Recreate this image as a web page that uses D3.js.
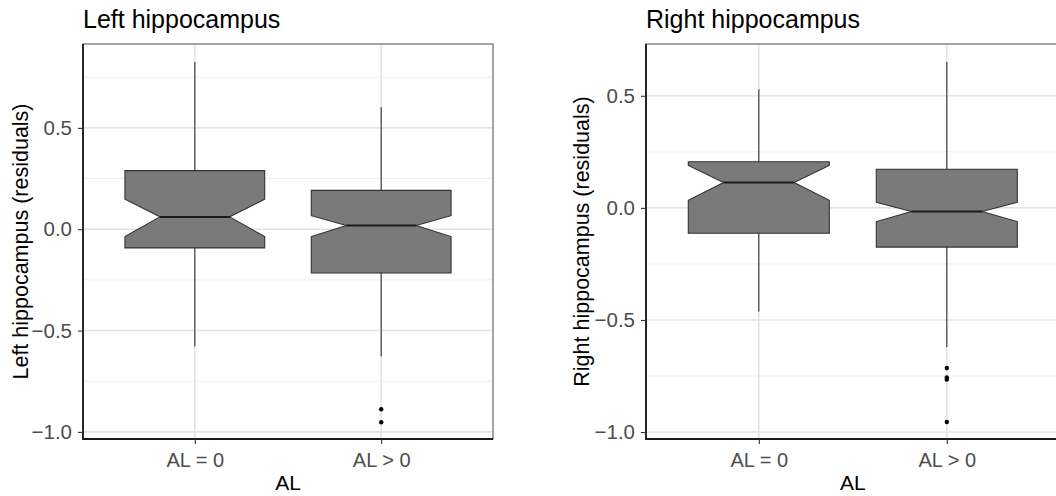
<!DOCTYPE html>
<html>
<head>
<meta charset="utf-8">
<script src="https://cdn.jsdelivr.net/npm/d3@7"></script>
<style>
  html, body { margin: 0; padding: 0; background: #fff; }
  svg text { font-family: "Liberation Sans", Arial, Helvetica, sans-serif; }
</style>
</head>
<body>
<div id="chart"></div>
<script>
/* ------------------------------------------------------------
   Notched boxplots: hippocampus residuals by AL group
------------------------------------------------------------- */

// ---- data ----
const groups = ["AL = 0", "AL > 0"];

const leftLower   = [-0.579, -0.627];
const leftQ1      = [-0.092, -0.216];
const leftNotchLo = [-0.036, -0.036];
const leftMedian  = [ 0.061,  0.018];
const leftNotchHi = [ 0.148,  0.067];
const leftQ3      = [ 0.289,  0.192];
const leftUpper   = [ 0.825,  0.602];
const leftOutliers = [[], [-0.888, -0.952]];

const rightLower   = [-0.462, -0.621];
const rightQ1      = [-0.113, -0.175];
const rightNotchLo = [ 0.034, -0.061];
const rightMedian  = [ 0.113, -0.016];
const rightNotchHi = [ 0.189,  0.025];
const rightQ3      = [ 0.206,  0.172];
const rightUpper   = [ 0.529,  0.651];
const rightOutliers = [[], [-0.714, -0.756, -0.766, -0.955]];

const majorTicks = [-1.0, -0.5, 0.0, 0.5];
const minorTicks = [-0.75, -0.25, 0.25, 0.75];

// ---- svg ----
const W = 1056, H = 496;
const svg = d3.select("#chart").append("svg")
    .attr("width", W)
    .attr("height", H);

function makeBoxes(lower, q1, nlo, med, nhi, q3, upper, outs) {
    return groups.map((g, i) => ({
        group: g, lower: lower[i], q1: q1[i], notchLo: nlo[i], median: med[i],
        notchHi: nhi[i], q3: q3[i], upper: upper[i], outliers: outs[i]
    }));
}

function drawPanel(cfg) {
    const { x0, x1, y0, y1, yDomain, title, yLabel, boxes } = cfg;

    const x = d3.scalePoint().domain(groups).range([x0, x1]).padding(0.6);
    const y = d3.scaleLinear().domain(yDomain).range([y1, y0]);
    const boxW = x.step() * 0.75;

    const g = svg.append("g");
    const clipId = "clip-" + title.split(" ")[0];
    svg.append("clipPath").attr("id", clipId)
        .append("rect").attr("x", x0).attr("y", y0)
        .attr("width", x1 - x0).attr("height", y1 - y0);

    const plot = g.append("g").attr("clip-path", `url(#${clipId})`);

    // grid
    plot.selectAll(".minor").data(minorTicks).enter().append("line")
        .attr("x1", x0).attr("x2", x1)
        .attr("y1", d => y(d)).attr("y2", d => y(d))
        .attr("stroke", "#efefef").attr("stroke-width", 1);
    plot.selectAll(".major").data(majorTicks).enter().append("line")
        .attr("x1", x0).attr("x2", x1)
        .attr("y1", d => y(d)).attr("y2", d => y(d))
        .attr("stroke", "#e3e3e3").attr("stroke-width", 1.6);
    plot.selectAll(".vmajor").data(groups).enter().append("line")
        .attr("x1", d => x(d)).attr("x2", d => x(d))
        .attr("y1", y0).attr("y2", y1)
        .attr("stroke", "#e3e3e3").attr("stroke-width", 1.6);

    // whiskers
    plot.selectAll(".whiskHi").data(boxes).enter().append("line")
        .attr("x1", d => x(d.group)).attr("x2", d => x(d.group))
        .attr("y1", d => y(d.q3)).attr("y2", d => y(d.upper))
        .attr("stroke", "#333").attr("stroke-width", 1.1);
    plot.selectAll(".whiskLo").data(boxes).enter().append("line")
        .attr("x1", d => x(d.group)).attr("x2", d => x(d.group))
        .attr("y1", d => y(d.q1)).attr("y2", d => y(d.lower))
        .attr("stroke", "#333").attr("stroke-width", 1.1);

    // notched boxes
    const notchPath = d => {
        const cx = x(d.group), hw = boxW / 2, nw = boxW / 4;
        return d3.line()([
            [cx - hw, y(d.q3)], [cx + hw, y(d.q3)], [cx + hw, y(d.notchHi)],
            [cx + nw, y(d.median)], [cx + hw, y(d.notchLo)], [cx + hw, y(d.q1)],
            [cx - hw, y(d.q1)], [cx - hw, y(d.notchLo)], [cx - nw, y(d.median)],
            [cx - hw, y(d.notchHi)]
        ]) + "Z";
    };
    plot.selectAll(".box").data(boxes).enter().append("path")
        .attr("d", notchPath)
        .attr("fill", "#7a7a7a")
        .attr("stroke", "#333")
        .attr("stroke-width", 1.1);
    plot.selectAll(".median").data(boxes).enter().append("line")
        .attr("x1", d => x(d.group) - boxW / 4).attr("x2", d => x(d.group) + boxW / 4)
        .attr("y1", d => y(d.median)).attr("y2", d => y(d.median))
        .attr("stroke", "#1a1a1a").attr("stroke-width", 2);

    // outliers
    const outPts = boxes.flatMap(b => b.outliers.map(v => ({ group: b.group, v })));
    plot.selectAll(".out").data(outPts).enter().append("circle")
        .attr("cx", d => x(d.group)).attr("cy", d => y(d.v))
        .attr("r", 2.2).attr("fill", "#000");

    // panel border
    g.append("rect")
        .attr("x", x0).attr("y", y0)
        .attr("width", x1 - x0).attr("height", y1 - y0)
        .attr("fill", "none").attr("stroke", "#4d4d4d").attr("stroke-width", 1);
    g.append("path")
        .attr("d", `M${x0},${y0}V${y1}H${x1}`)
        .attr("fill", "none").attr("stroke", "#1a1a1a").attr("stroke-width", 1.8);

    // y axis
    const yAxis = g.append("g")
        .attr("transform", `translate(${x0},0)`)
        .call(d3.axisLeft(y).tickValues(majorTicks).tickSize(5).tickSizeOuter(0)
            .tickFormat(d => d3.format(".1f")(d).replace("-", "\u2212")));
    yAxis.select(".domain").remove();
    yAxis.selectAll(".tick line").attr("stroke", "#333").attr("stroke-width", 1.1);
    yAxis.selectAll(".tick text")
        .attr("x", -11).attr("fill", "#4d4d4d")
        .style("font-size", "20.5px");

    // x axis
    const xAxis = g.append("g")
        .attr("transform", `translate(0,${y1})`)
        .call(d3.axisBottom(x).tickSize(5).tickSizeOuter(0));
    xAxis.select(".domain").remove();
    xAxis.selectAll(".tick line").attr("stroke", "#333").attr("stroke-width", 1.1);
    xAxis.selectAll(".tick text")
        .attr("y", 14).attr("dy", "0.71em").attr("fill", "#4d4d4d")
        .style("font-size", "20px");

    // titles
    g.append("text")
        .attr("x", x0).attr("y", 28)
        .style("font-size", "25px").attr("fill", "#000")
        .text(title);
    g.append("text")
        .attr("x", x0 + x.step() * 1.1)
        .attr("y", 490)
        .attr("text-anchor", "middle")
        .style("font-size", "21px").attr("fill", "#000")
        .text("AL");
    g.append("text")
        .attr("transform", `translate(${cfg.yLabelX},${(y0 + y1) / 2}) rotate(-90)`)
        .attr("text-anchor", "middle")
        .style("font-size", "21.5px").attr("fill", "#000")
        .text(yLabel);
}

drawPanel({
    x0: 83, x1: 493, y0: 44, y1: 439,
    yDomain: [-1.035, 0.914],
    title: "Left hippocampus",
    yLabel: "Left hippocampus (residuals)",
    yLabelX: 28,
    boxes: makeBoxes(leftLower, leftQ1, leftNotchLo, leftMedian, leftNotchHi, leftQ3, leftUpper, leftOutliers)
});

drawPanel({
    x0: 646, x1: 1059.6, y0: 44, y1: 439,
    yDomain: [-1.031, 0.731],
    title: "Right hippocampus",
    yLabel: "Right hippocampus (residuals)",
    yLabelX: 589,
    boxes: makeBoxes(rightLower, rightQ1, rightNotchLo, rightMedian, rightNotchHi, rightQ3, rightUpper, rightOutliers)
});
</script>
</body>
</html>
